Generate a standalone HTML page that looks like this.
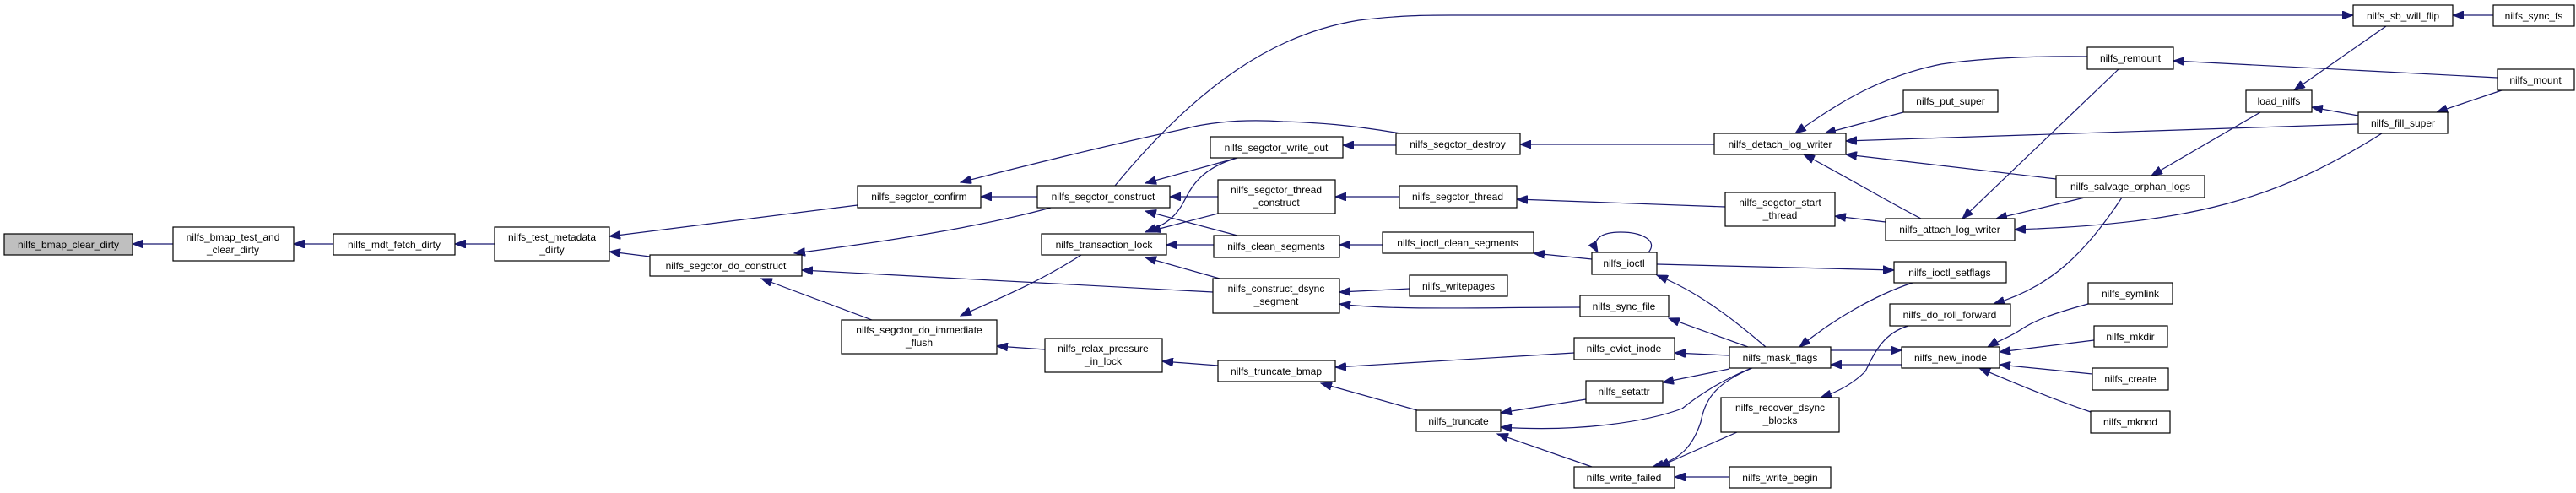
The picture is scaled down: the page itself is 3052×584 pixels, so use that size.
<!DOCTYPE html>
<html><head><meta charset="utf-8"><style>
html,body{margin:0;padding:0;background:#fff}
svg{display:block}
text{font-family:"Liberation Sans",sans-serif;font-size:12px;fill:#000;text-anchor:middle}
rect{fill:#fff;stroke:#000;stroke-width:1.2}
path{fill:none;stroke:#191970;stroke-width:1.2}
</style></head><body>
<svg width="3052" height="584" viewBox="0 0 3052 584" xmlns="http://www.w3.org/2000/svg">
<defs>
<marker id="a" markerUnits="userSpaceOnUse" markerWidth="14" markerHeight="10" refX="13" refY="5" orient="auto">
<polygon points="0,0 13,5 0,10" fill="#191970" stroke="#191970"/>
</marker>
</defs>
<g marker-end="url(#a)">
<path d="M205,289 L157,289"/>
<path d="M395,289 L348,289"/>
<path d="M586,289 L539,289"/>
<path d="M1016,243 L722,280"/>
<path d="M770,304 L722,298"/>
<path d="M1229,233 L1162,233"/>
<path d="M1245,246 C1150,272 1020,290 941,300"/>
<path d="M1033,379 L902,330"/>
<path d="M1437,346 L950,320"/>
<path d="M1281,302 C1230,335 1180,355 1138,374"/>
<path d="M1238,414 L1181,410"/>
<path d="M1443,433 L1377,428"/>
<path d="M1466,187 L1357,217"/>
<path d="M1443,233 L1386,233"/>
<path d="M1466,279 L1357,250"/>
<path d="M1466,187 C1420,200 1410,225 1402,240 C1390,262 1375,268 1357,275"/>
<path d="M1443,253 L1362,274"/>
<path d="M1438,290 L1382,290"/>
<path d="M1445,330 L1357,305"/>
<path d="M1321,220 C1420,100 1510,40 1610,24 C1660,18 1690,18 1719,18 L2788,18"/>
<path d="M1659,158 C1600,148 1560,145 1520,144 C1460,140 1420,148 1402,153 C1320,170 1200,200 1138,216"/>
<path d="M1654,172 L1591,172"/>
<path d="M1658,233 L1582,233"/>
<path d="M1638,290 L1587,290"/>
<path d="M1670,342 L1587,346"/>
<path d="M1872,364 C1760,364 1650,368 1587,360"/>
<path d="M1865,418 L1582,435"/>
<path d="M1679,486 L1565,454"/>
<path d="M1879,473 L1778,489"/>
<path d="M1886,553 L1774,514"/>
<path d="M2075,436 C2040,450 2010,470 1993,484 C1950,500 1870,512 1778,506"/>
<path d="M2031,171 L1801,171"/>
<path d="M2044,245 L1797,236"/>
<path d="M1886,307 L1817,300"/>
<path d="M1953,299 C1965,285 1945,275 1920,275 C1895,275 1885,285 1893,299"/>
<path d="M1963,313 L2244,320"/>
<path d="M2092,411 C2050,375 2010,345 1963,326"/>
<path d="M2071,411 L1977,377"/>
<path d="M2049,421 L1984,418"/>
<path d="M2049,437 L1970,453"/>
<path d="M2076,436 C2030,455 2020,475 2015,500 C2005,530 1990,545 1958,553"/>
<path d="M2058,512 L1965,553"/>
<path d="M2049,565 L1984,565"/>
<path d="M2266,335 C2220,350 2170,380 2132,411"/>
<path d="M2169,415 L2253,415"/>
<path d="M2253,432 L2169,432"/>
<path d="M2261,386 C2230,395 2220,420 2210,440 C2195,455 2175,465 2157,471"/>
<path d="M2255,133 L2162,158"/>
<path d="M2473,67 C2400,66 2340,70 2300,76 C2230,90 2180,120 2127,158"/>
<path d="M2794,147 L2187,167"/>
<path d="M2436,212 L2187,183"/>
<path d="M2276,259 C2230,235 2180,205 2137,183"/>
<path d="M2234,263 L2174,256"/>
<path d="M2510,82 L2325,259"/>
<path d="M2470,234 L2365,259"/>
<path d="M2822,158 C2700,235 2600,265 2387,272"/>
<path d="M2514,234 C2470,300 2430,340 2362,360"/>
<path d="M2678,133 L2549,208"/>
<path d="M2827,31 L2718,107"/>
<path d="M2954,18 L2906,18"/>
<path d="M2959,92 L2575,72"/>
<path d="M2964,107 L2887,133"/>
<path d="M2794,137 L2739,127"/>
<path d="M2474,360 C2430,372 2410,380 2395,390 C2380,400 2365,405 2355,411"/>
<path d="M2481,403 L2369,417"/>
<path d="M2479,443 L2369,432"/>
<path d="M2477,488 C2430,472 2390,455 2345,436"/>
</g>
<rect x="5" y="277" width="152" height="25" style="fill:#bfbfbf"/><text x="81" y="294">nilfs_bmap_clear_dirty</text>
<rect x="205" y="269" width="143" height="40"/><text x="276" y="285">nilfs_bmap_test_and</text><text x="276" y="300">_clear_dirty</text>
<rect x="395" y="277" width="144" height="25"/><text x="467" y="294">nilfs_mdt_fetch_dirty</text>
<rect x="586" y="269" width="136" height="40"/><text x="654" y="285">nilfs_test_metadata</text><text x="654" y="300">_dirty</text>
<rect x="1016" y="220" width="146" height="26"/><text x="1089" y="237">nilfs_segctor_confirm</text>
<rect x="1229" y="220" width="157" height="26"/><text x="1307" y="237">nilfs_segctor_construct</text>
<rect x="770" y="302" width="180" height="25"/><text x="860" y="319">nilfs_segctor_do_construct</text>
<rect x="1234" y="277" width="148" height="25"/><text x="1308" y="294">nilfs_transaction_lock</text>
<rect x="997" y="379" width="184" height="40"/><text x="1089" y="395">nilfs_segctor_do_immediate</text><text x="1089" y="410">_flush</text>
<rect x="1238" y="401" width="139" height="40"/><text x="1307" y="417">nilfs_relax_pressure</text><text x="1307" y="432">_in_lock</text>
<rect x="1434" y="162" width="157" height="25"/><text x="1512" y="179">nilfs_segctor_write_out</text>
<rect x="1443" y="213" width="139" height="40"/><text x="1512" y="229">nilfs_segctor_thread</text><text x="1512" y="244">_construct</text>
<rect x="1438" y="279" width="149" height="26"/><text x="1512" y="296">nilfs_clean_segments</text>
<rect x="1437" y="330" width="150" height="41"/><text x="1512" y="346">nilfs_construct_dsync</text><text x="1512" y="361">_segment</text>
<rect x="1443" y="427" width="139" height="25"/><text x="1512" y="444">nilfs_truncate_bmap</text>
<rect x="1654" y="158" width="147" height="25"/><text x="1727" y="175">nilfs_segctor_destroy</text>
<rect x="1658" y="220" width="139" height="26"/><text x="1727" y="237">nilfs_segctor_thread</text>
<rect x="1638" y="275" width="179" height="25"/><text x="1727" y="292">nilfs_ioctl_clean_segments</text>
<rect x="1670" y="326" width="116" height="25"/><text x="1728" y="343">nilfs_writepages</text>
<rect x="1872" y="350" width="105" height="25"/><text x="1924" y="367">nilfs_sync_file</text>
<rect x="1865" y="400" width="119" height="26"/><text x="1924" y="417">nilfs_evict_inode</text>
<rect x="1879" y="451" width="91" height="26"/><text x="1924" y="468">nilfs_setattr</text>
<rect x="1678" y="486" width="100" height="25"/><text x="1728" y="503">nilfs_truncate</text>
<rect x="1865" y="553" width="119" height="25"/><text x="1924" y="570">nilfs_write_failed</text>
<rect x="2049" y="553" width="120" height="25"/><text x="2109" y="570">nilfs_write_begin</text>
<rect x="2049" y="411" width="120" height="25"/><text x="2109" y="428">nilfs_mask_flags</text>
<rect x="2039" y="471" width="140" height="41"/><text x="2109" y="487">nilfs_recover_dsync</text><text x="2109" y="502">_blocks</text>
<rect x="1886" y="299" width="77" height="26"/><text x="1924" y="316">nilfs_ioctl</text>
<rect x="2044" y="228" width="130" height="40"/><text x="2109" y="244">nilfs_segctor_start</text><text x="2109" y="259">_thread</text>
<rect x="2031" y="158" width="156" height="25"/><text x="2109" y="175">nilfs_detach_log_writer</text>
<rect x="2255" y="107" width="112" height="26"/><text x="2311" y="124">nilfs_put_super</text>
<rect x="2234" y="259" width="153" height="26"/><text x="2310" y="276">nilfs_attach_log_writer</text>
<rect x="2244" y="310" width="133" height="25"/><text x="2310" y="327">nilfs_ioctl_setflags</text>
<rect x="2239" y="360" width="143" height="26"/><text x="2310" y="377">nilfs_do_roll_forward</text>
<rect x="2253" y="411" width="116" height="25"/><text x="2311" y="428">nilfs_new_inode</text>
<rect x="2473" y="56" width="102" height="26"/><text x="2524" y="73">nilfs_remount</text>
<rect x="2436" y="208" width="176" height="26"/><text x="2524" y="225">nilfs_salvage_orphan_logs</text>
<rect x="2474" y="335" width="100" height="25"/><text x="2524" y="352">nilfs_symlink</text>
<rect x="2481" y="386" width="87" height="25"/><text x="2524" y="403">nilfs_mkdir</text>
<rect x="2479" y="436" width="90" height="26"/><text x="2524" y="453">nilfs_create</text>
<rect x="2477" y="487" width="94" height="26"/><text x="2524" y="504">nilfs_mknod</text>
<rect x="2661" y="107" width="78" height="26"/><text x="2700" y="124">load_nilfs</text>
<rect x="2788" y="6" width="118" height="25"/><text x="2847" y="23">nilfs_sb_will_flip</text>
<rect x="2954" y="6" width="96" height="25"/><text x="3002" y="23">nilfs_sync_fs</text>
<rect x="2959" y="82" width="91" height="25"/><text x="3004" y="99">nilfs_mount</text>
<rect x="2794" y="133" width="106" height="25"/><text x="2847" y="150">nilfs_fill_super</text>
</svg>
</body></html>
